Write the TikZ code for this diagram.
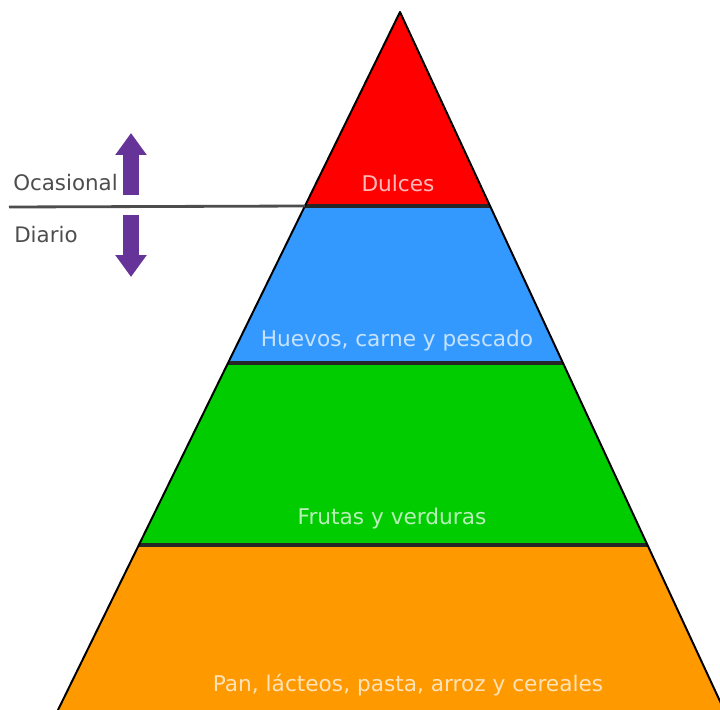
\documentclass[tikz,border=0pt]{standalone}
\usepackage{fontspec}
\setmainfont{DejaVu Sans}
\usepackage{tikz}
\usetikzlibrary{arrows.meta, calc}
\usepackage{xcolor}
\definecolor{PiramRojo}{RGB}{255,0,0}
\definecolor{PiramAzul}{RGB}{51,153,255}
\definecolor{PiramVerde}{RGB}{0,204,0}
\definecolor{PiramNaranja}{RGB}{255,153,0}
\definecolor{PiramMorado}{RGB}{102,51,153}
\definecolor{PiramGris}{RGB}{77,77,77}
\tikzset{%
  banda/.style    ={draw=none},
  borde/.style    ={draw=black, line width=1.4pt, line join=round},
  sep/.style      ={draw=black!85, line width=2.2pt},
  etiq/.style     ={text=white, text opacity=0.72, font=\fontsize{15.4}{17}\selectfont,
                    inner sep=0pt},
  lado/.style     ={text=PiramGris, font=\fontsize{15.2}{17}\selectfont, inner sep=0pt,
                    anchor=west},
  flecha/.style   ={draw=PiramMorado, line width=11.4pt,
                    -{Triangle[width=21.3pt, length=15.6pt]}},
  linea/.style    ={-, draw=PiramGris, line width=2pt}
}

\begin{document}
\begin{tikzpicture}[x=0.025cm, y=-0.025cm]
  \useasboundingbox (0,0) rectangle (720,709);
  % piramide
  \coordinate (ap) at (400,12);
  \coordinate (l1) at (305,206); \coordinate (r1) at (490,206);
  \coordinate (l2) at (228,363); \coordinate (r2) at (563,363);
  \coordinate (l3) at (139,545); \coordinate (r3) at (647,545);
  \coordinate (l4) at (57,712);  \coordinate (r4) at (725,712);
  \fill[PiramRojo]    (ap)--(r1)--(l1)--cycle;
  \fill[PiramAzul]    (l1)--(r1)--(r2)--(l2)--cycle;
  \fill[PiramVerde]   (l2)--(r2)--(r3)--(l3)--cycle;
  \fill[PiramNaranja] (l3)--(r3)--(r4)--(l4)--cycle;
  \draw[sep] (l1)--(r1); \draw[sep] (l2)--(r2); \draw[sep] (l3)--(r3);
  \draw[borde] (l4)--(ap)--(r4);
  \node[etiq] (dul) at (398,183) {Dulces};
  \node[etiq] (hue) at (397,341) {Huevos, carne y pescado};
  \node[etiq] (fru) at (392,519) {Frutas y verduras};
  \node[etiq] (pan) at (408,685) {Pan, lácteos, pasta, arroz y cereales};
  % frecuencia
  \coordinate (ini) at (9,207);
  \draw[linea] (ini)--(l1);
  \node[lado] (oca) at (13,183) {Ocasional};
  \node[lado] (dia) at (14,235) {Diario};
  \coordinate (su0) at (131,195); \coordinate (su1) at (131,133);
  \coordinate (ba0) at (131,215); \coordinate (ba1) at (131,277);
  \draw[flecha] (su0)--(su1);
  \draw[flecha] (ba0)--(ba1);
\end{tikzpicture}
\end{document}
